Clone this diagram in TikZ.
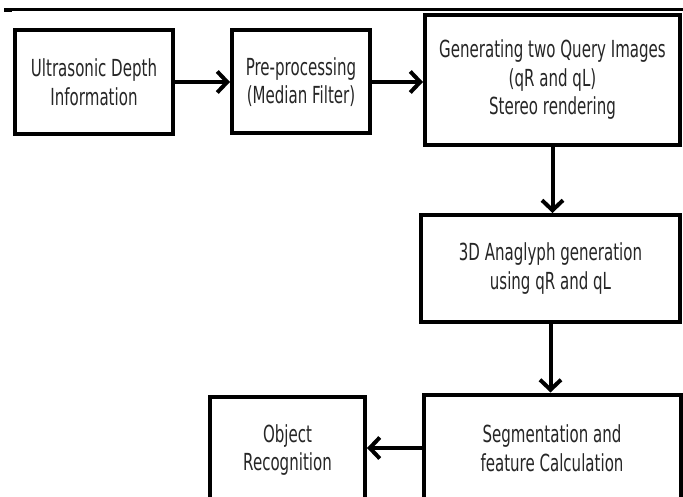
\documentclass[tikz,border=0pt]{standalone}
\usepackage{fontspec}
\setmainfont[FakeStretch=0.64]{DejaVu Sans}
\usetikzlibrary{arrows.meta}
\tikzset{
  box/.style={draw=black, line width=4pt, fill=white, align=center, inner sep=0pt,
    font=\fontsize{23.5}{28.5}\selectfont, text=black!85},
  conn/.style={line width=4pt, -{Straight Barb[length=10pt,width=21pt,line width=4pt]}},
}
\begin{document}
\begin{tikzpicture}[x=1pt,y=-1pt]
\useasboundingbox (0,0) rectangle (683,497);
\clip (0,0) rectangle (683,497);
\fill[white] (0,0) rectangle (683,497);
% top rule
\draw[line width=3pt] (4,9.5) -- (690,9.5);
\draw[line width=3pt] (4,11) -- (12,11);
% boxes
\node[box, minimum width=158pt, minimum height=104pt] (b1) at (94,82)
  {Ultrasonic Depth\\Information};
\node[box, minimum width=138pt, minimum height=103pt] (b2) at (301,82)
  {Pre-processing\\(Median Filter)};
\node[box, minimum width=255pt, minimum height=130pt] (b3) at (552.5,80)
  {Generating two Query Images\\(qR and qL)\\Stereo rendering};
\node[box, minimum width=259pt, minimum height=107pt] (b4) at (550.5,268.5)
  {3D Anaglyph generation\\using qR and qL};
\node[box, minimum width=257pt, minimum height=107pt] (b5) at (552,448)
  {Segmentation and\\feature Calculation};
\node[box, minimum width=155pt, minimum height=107pt] (b6) at (287.5,450)
  {Object\\Recognition};
% connectors
\draw[conn] (b1.east) -- (b2.west);
\draw[conn] (b2.east) -- (b2.east -| b3.west);
\draw[conn] (b3.south) -- (b3.south |- b4.north);
\draw[conn] (b4.south) -- (b4.south |- b5.north);
\draw[conn] (b5.west) -- (b5.west -| b6.east);
\end{tikzpicture}
\end{document}
